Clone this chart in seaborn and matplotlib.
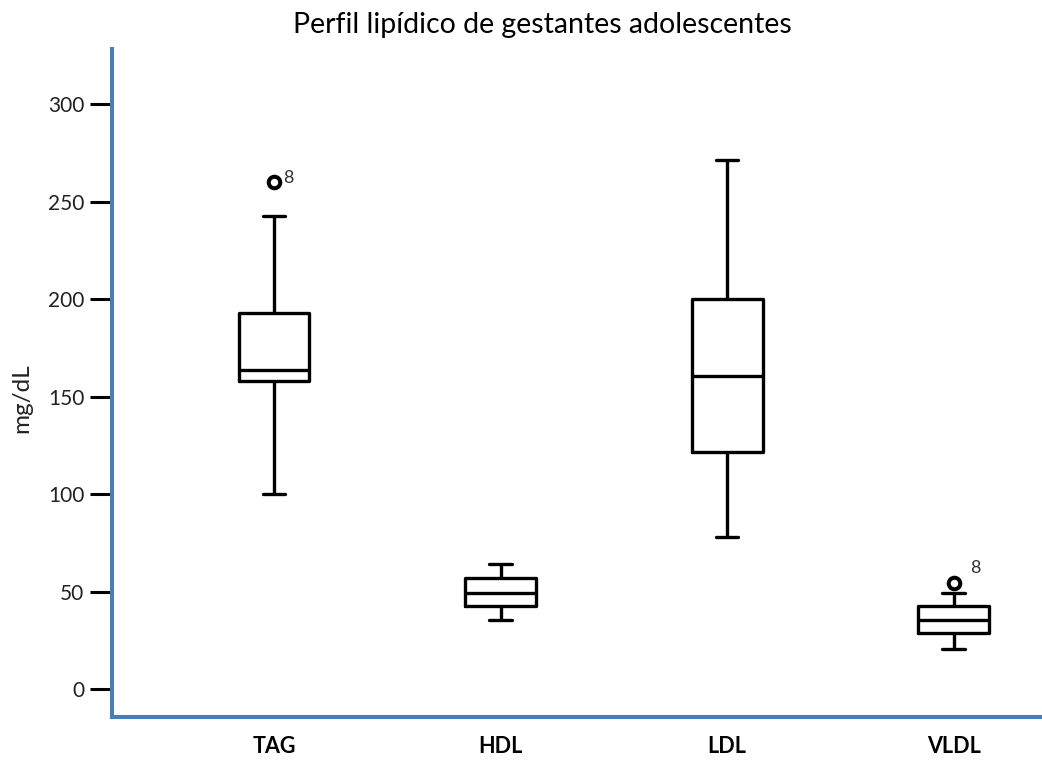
import numpy as np
import pandas as pd
import matplotlib
matplotlib.use("Agg")
import matplotlib.pyplot as plt
import seaborn as sns

# ---- data ----
categories = ["TAG", "HDL", "LDL", "VLDL"]
whisker_low = [100.0, 35.4, 78.3, 20.7]
q1 = [158.1, 42.9, 121.5, 29.0]
medians = [163.7, 49.5, 160.7, 35.4]
q3 = [192.8, 57.2, 200.2, 42.9]
whisker_high = [242.9, 64.1, 271.4, 49.5]
outlier_cats = ["TAG", "VLDL"]
outlier_values = [260.3, 54.3]
outlier_ids = ["8", "8"]
y_ticks = [0, 50, 100, 150, 200, 250, 300]

title = "Perfil lipídico de gestantes adolescentes"
ylabel = "mg/dL"

# five-number summaries as long-form table (whiskers span min..max)
rows = []
for c, a, b, m, d, e in zip(categories, whisker_low, q1, medians, q3, whisker_high):
    for v in (a, b, m, d, e):
        rows.append({"grupo": c, "valor": v})
df = pd.DataFrame(rows)

sns.set_theme(style="white")
plt.rcParams["font.family"] = ["Lato", "DejaVu Sans"]

fig = plt.figure(figsize=(10.42, 7.66), dpi=100)
ax = fig.add_axes([112 / 1042, 49 / 766, 930 / 1042, 668 / 766])

box_kw = dict(data=df, x="grupo", y="valor", order=categories, whis=(0, 100),
              width=0.313, fill=False, color="black", linewidth=2.4,
              showfliers=False, ax=ax)
try:
    sns.boxplot(**box_kw, capwidths=0.1)
except TypeError:
    ax.cla()
    sns.boxplot(**box_kw)

sns.stripplot(x=outlier_cats, y=outlier_values, order=categories, jitter=False,
              marker="o", size=8.3, color="white", edgecolor="black",
              linewidth=2.9, ax=ax, zorder=5)

offsets = [(6.5, 3), (12, 11)]
for cat, val, lab, off in zip(outlier_cats, outlier_values, outlier_ids, offsets):
    ax.annotate(lab, (categories.index(cat), val), xytext=off,
                textcoords="offset points", ha="left", va="center",
                fontsize=13, color="#333333")

ax.set_xlim(-0.715, 3.39)
ax.set_ylim(-14.2, 328.4)
ax.set_yticks(y_ticks)
ax.tick_params(axis="y", direction="out", length=15.8, width=2.2,
               color="black", labelsize=15, pad=4, left=True,
               labelcolor="#222222")
ax.tick_params(axis="x", length=0, pad=14, labelsize=15.5, labelcolor="black")
for lab in ax.get_xticklabels():
    lab.set_fontweight("bold")
ax.set_xlabel("")
ax.set_ylabel(ylabel, fontsize=17.5, color="#222222")
ax.yaxis.set_label_coords(-0.086, 0.478)
for s in ["top", "right"]:
    ax.spines[s].set_visible(False)
for s in ["left", "bottom"]:
    ax.spines[s].set_color("#4A7EBB")
    ax.spines[s].set_linewidth(2.9)
ax.set_title(title, fontsize=20.5, x=0.463, pad=11.5, color="black")

fig.savefig("out.png", dpi=100)
